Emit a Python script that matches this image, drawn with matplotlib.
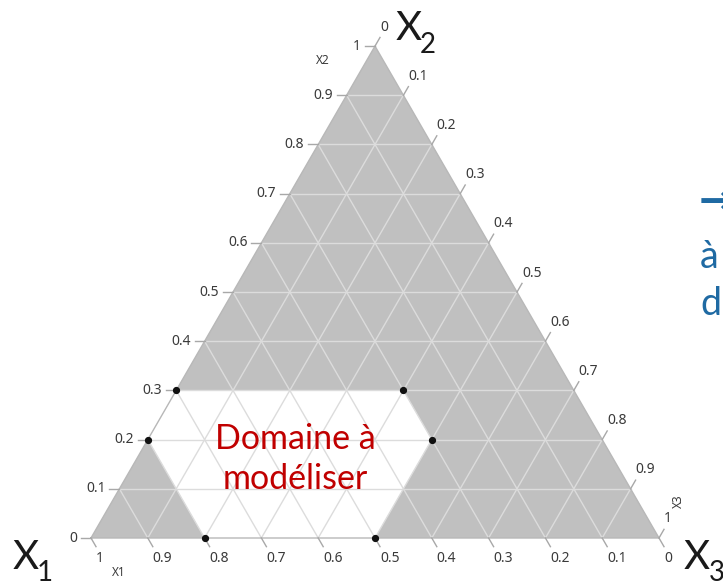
import numpy as np
import matplotlib

matplotlib.use("agg")
import matplotlib.pyplot as plt

# ternary ticks, one set per component
tick_values = [1.0, 0.9, 0.8, 0.7, 0.6, 0.5, 0.4, 0.3, 0.2, 0.1, 0.0]
tick_labels = ["1", "0.9", "0.8", "0.7", "0.6", "0.5", "0.4", "0.3", "0.2", "0.1", "0"]

# corners of the modelling domain as (x1, x2, x3)
domain_x1 = [0.7, 0.3, 0.3, 0.5, 0.8, 0.8]
domain_x2 = [0.3, 0.3, 0.2, 0.0, 0.0, 0.2]
domain_x3 = [0.0, 0.4, 0.5, 0.5, 0.2, 0.0]

W, H = 723, 583
X0, Y0, SIDE = 91.0, 538.0, 568.0   # pixel position of the x1 corner, side length
H3 = np.sqrt(3) / 2


def tern(x1, x2, x3):
    x2 = np.asarray(x2, dtype=float)
    x3 = np.asarray(x3, dtype=float)
    return x3 + 0.5 * x2, H3 * x2


def px(x, y):
    # pixel (from top-left) to data units
    return (x - X0) / SIDE, (Y0 - y) / SIDE


def off(n):
    return n / SIDE


fig = plt.figure(figsize=(W / 100, H / 100), dpi=100)
ax = fig.add_axes([0, 0, 1, 1])
ax.set_xlim(-X0 / SIDE, (W - X0) / SIDE)
ax.set_ylim(-(H - Y0) / SIDE, Y0 / SIDE)
ax.set_aspect("equal")
ax.axis("off")

tick_font = dict(family="Noto Sans", fontsize=10, color="#3a3a3a")
tick_col = "#a8a8a8"
grid_col = "#dcdcdc"

# background triangle and white domain
tx, ty = tern([1, 0, 0], [0, 1, 0], [0, 0, 1])
ax.fill(tx, ty, color="#c0c0c0", lw=0, zorder=1)
dx, dy = tern(domain_x1, domain_x2, domain_x3)
ax.fill(dx, dy, color="white", lw=0, zorder=2)

# grid
for v in np.arange(1, 10) / 10:
    # x2 = v (horizontal)
    gx, gy = tern([1 - v, 0], [v, v], [0, 1 - v])
    ax.plot(gx, gy, color=grid_col, lw=1.0, zorder=3)
    # x1 = v
    gx, gy = tern([v, v], [1 - v, 0], [0, 1 - v])
    ax.plot(gx, gy, color=grid_col, lw=1.0, zorder=3)
    # x3 = v
    gx, gy = tern([1 - v, 0], [0, 1 - v], [v, v])
    ax.plot(gx, gy, color=grid_col, lw=1.0, zorder=3)

# outline
ax.plot(np.append(tx, tx[0]), np.append(ty, ty[0]), color="#b8b8b8", lw=1.0, zorder=4)

tl = off(10)
for v, lab in zip(tick_values, tick_labels):
    # left axis: x2
    x, y = tern(1 - v, v, 0)
    ax.plot([x - tl, x], [y, y], color=tick_col, lw=1.0, zorder=4)
    ax.text(x - off(14), y, lab, ha="right", va="center", **tick_font)
    # bottom axis: x1
    x, y = tern(v, 0, 1 - v)
    ax.plot([x, x + 0.5 * tl], [y, y - H3 * tl], color=tick_col, lw=1.0, zorder=4)
    ax.text(x + off(5), y - off(21), lab, ha="left", va="center", **tick_font)
    # right axis: x3
    x, y = tern(0, 1 - v, v)
    ax.plot([x, x + 0.5 * tl], [y, y + H3 * tl], color=tick_col, lw=1.0, zorder=4)
    ax.text(x + off(5), y + off(19), lab, ha="left", va="center", **tick_font)

# small axis names
small = dict(ha="center", va="center", family="Noto Sans", fontsize=8.5, color="#3a3a3a")
ax.text(*px(323, 61), "X2", **small)
ax.text(*px(119, 573), "X1", **small)
ax.text(*px(678, 501), "X3", rotation=90, **small)

# domain corners
ax.plot(dx, dy, "o", color="#111111", ms=4.2, zorder=6, lw=0)

# large vertex names
big = dict(family="Lato", color="#1a1a1a", va="baseline", ha="left")
for (xx, yy), (sx, sy), sub in [((13, 569), (37, 581), "1"),
                                ((396, 40), (420, 53), "2"),
                                ((684, 569), (709, 581), "3")]:
    ax.text(*px(xx, yy), "X", fontsize=29, **big)
    ax.text(*px(sx, sy), sub, fontsize=20, **big)

ax.text(*px(295, 459), "Domaine à\nmodéliser", ha="center", va="center",
        family="Lato", fontsize=24.5, color="#c00000", linespacing=1.27, zorder=7)

blue = dict(color="#1f6aa3", ha="left", va="baseline")
ax.text(*px(699, 214), "→", fontsize=30, family="DejaVu Sans", fontweight="bold", **blue)
ax.text(*px(700, 268), "à", fontsize=27, family="Lato", **blue)
ax.text(*px(700, 315), "d", fontsize=27, family="Lato", **blue)

fig.savefig("out.png", dpi=100, facecolor="white")
